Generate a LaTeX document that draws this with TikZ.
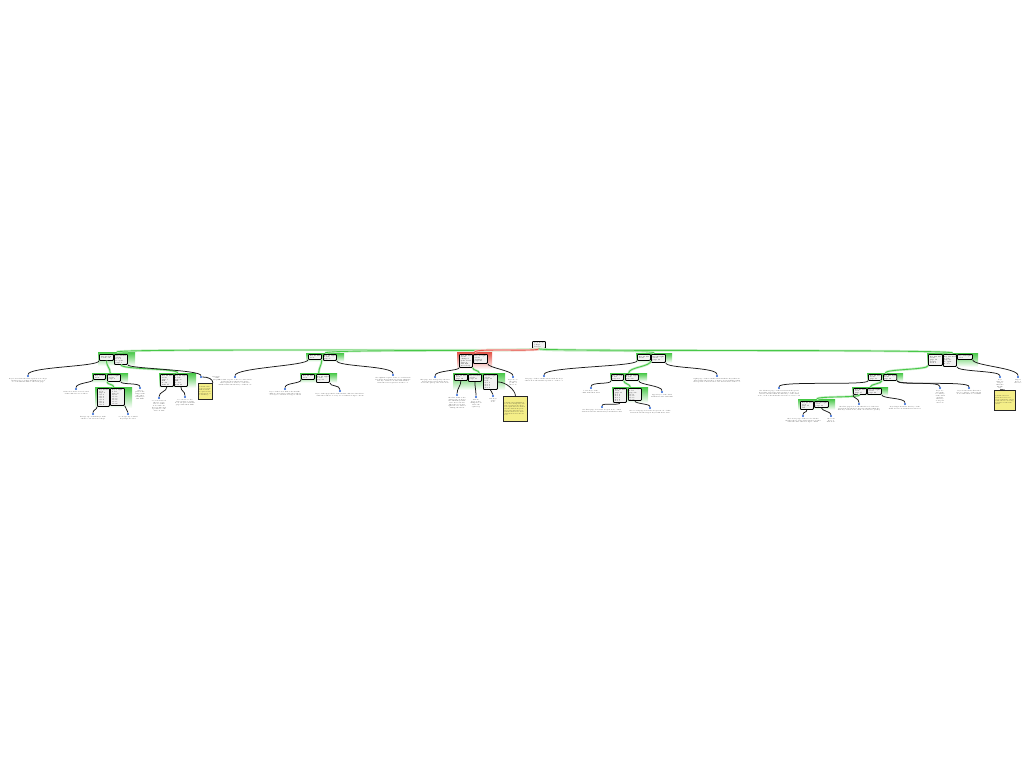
\documentclass[tikz,border=0pt]{standalone}
\usepackage{tikz}
\usetikzlibrary{positioning}

\definecolor{linkgreen}{RGB}{72,200,72}
\definecolor{linkred}{RGB}{228,84,72}
\definecolor{notefill}{RGB}{244,238,136}
\definecolor{markblue}{RGB}{36,96,214}

\tikzset{keybox/.style={draw=black,line width=0.8pt,rounded corners=0.8pt,
           fill=gray!10,inner sep=0.4pt,anchor=north west,align=left,
           text=black,font=\fontsize{1.6}{1.7}\selectfont},
         greenbg/.style={anchor=north west,inner sep=0pt,
           top color=linkgreen,bottom color=linkgreen!4},
         redbg/.style={anchor=north west,inner sep=0pt,
           top color=linkred,bottom color=linkred!6},
         leafmark/.style={circle,fill=markblue,inner sep=0pt,minimum size=2.4pt},
         leaftext/.style={align=center,inner sep=0.2pt,text=black!90,
           font=\fontsize{1.5}{1.7}\selectfont},
         notebox/.style={draw=black!85,line width=0.9pt,fill=notefill,
           anchor=north west,align=left,inner sep=0.8pt,text=black!90,
           font=\fontsize{1.4}{1.6}\selectfont},
         link/.style={draw=black!90,line width=0.75pt},
         glink/.style={draw=linkgreen,line width=0.9pt,
           preaction={draw=linkgreen!30,line width=2.4pt}},
         rlink/.style={draw=linkred,line width=0.9pt,
           preaction={draw=linkred!30,line width=2.4pt}}}

% box, group and leaf helpers (pixel coordinates, y downwards)
\newcommand{\kbox}[6]{\node[keybox,minimum width=#4pt,minimum height=#5pt] (#1) at (#2,-#3) {#6};}
\newcommand{\grp}[6]{\node[#6,minimum width=#4pt,minimum height=#5pt] (#1) at (#2,-#3) {};}
\newcommand{\leaf}[5]{\node[leafmark] (#1) at (#2,-#3) {};
  \node[leaftext,text width=#4pt,below=0.6pt of #1] (#1t) {#5};}
\newcommand{\ynote}[6]{\node[notebox,minimum width=#4pt,minimum height=#5pt,text width=#4pt-2pt] (#1) at (#2,-#3) {#6};}

\begin{document}
\begin{tikzpicture}[x=1pt,y=1pt]
\useasboundingbox (0,0) rectangle (1024,-768);

% group backgrounds
\grp{gA}{98}{352}{37}{13}{greenbg}
\grp{gB}{306}{353}{38}{8}{greenbg}
\grp{gC}{457}{352}{35}{16}{redbg}
\grp{gD}{636}{353}{36}{9}{greenbg}
\grp{gE}{927}{353}{51}{13}{greenbg}
\grp{gA1}{92}{373}{36}{9}{greenbg}
\grp{gA2}{159}{373}{37}{14}{greenbg}
\grp{gA11}{95}{387}{37}{20}{greenbg}
\grp{gB1}{300}{373}{37}{9}{greenbg}
\grp{gC1}{453}{373}{52}{16}{greenbg}
\grp{gD1}{610}{373}{37}{8}{greenbg}
\grp{gD11}{612}{387}{36}{15}{greenbg}
\grp{gE1}{867}{373}{36}{8}{greenbg}
\grp{gE11}{852}{387}{36}{8}{greenbg}
\grp{gE111}{798}{399}{37}{10}{greenbg}

% key boxes
\kbox{root}{532}{341}{13}{7}{root node\\5 keys\\level 0}
\kbox{Aa}{99}{354}{14}{6}{key 12 left\\2 refs out}
\kbox{Ab}{114}{354}{13}{10}{key 24 mid\\2 refs\\6 of 8\\no split\\page 3}
\kbox{Ba}{308}{354}{13}{5}{key 40 left\\1 ref}
\kbox{Bb}{323}{354}{13}{6}{key 52 right\\2 refs\\page 7}
\kbox{Ca}{459}{354}{13}{13}{key 61 left\\2 refs\\changed\\split at 64\\page 9\\left half\\moved up}
\kbox{Cb}{473}{354}{14}{9}{key 70 right\\2 refs\\changed\\page 10}
\kbox{Da}{637}{354}{13}{6}{key 81 left\\2 refs}
\kbox{Db}{651}{354}{14}{8}{key 90 right\\2 refs\\page 12}
\kbox{Ea}{928}{354}{14}{11}{key 104 left\\3 refs\\page 14\\deeper\\level 1}
\kbox{Eb}{943}{354}{13}{12}{key 118 mid\\2 refs\\page 15\\no split\\6 of 8}
\kbox{Ec}{957}{354}{15}{5}{key 126 right\\1 ref}
\kbox{A1a}{93}{374}{12}{5}{key 5 left\\1 ref}
\kbox{A1b}{107}{374}{13}{7}{key 8 right\\2 refs\\page 4}
\kbox{A2a}{160}{374}{13}{12}{key 16 left\\2 refs\\page 5\\full\\6 of 8\\next 17}
\kbox{A2b}{174}{374}{13}{12}{key 20 right\\2 refs\\page 6\\full\\7 of 8\\next 21}
\kbox{A11a}{97}{388}{12}{18}{key 6 left\\1 ref\\page 8\\slot 1\\slot 2\\slot 3\\slot 4\\slot 5\\slot 6\\slot 7}
\kbox{A11b}{110}{388}{14}{17}{key 7 right\\1 ref\\page 9\\slot 1\\slot 2\\slot 3\\slot 4\\slot 5\\slot 6}
\kbox{B1a}{301}{374}{13}{5}{key 44 left\\1 ref}
\kbox{B1b}{316}{374}{13}{8}{key 47 right\\2 refs\\page 11}
\kbox{C1a}{454}{374}{13}{6}{key 58 left\\1 ref\\page 16}
\kbox{C1b}{468}{374}{13}{7}{key 64 mid\\2 refs\\page 17}
\kbox{C1c}{483}{374}{14}{15}{key 67 right\\2 refs\\page 18\\new\\slot 1\\slot 2\\slot 3\\slot 4}
\kbox{D1a}{611}{374}{12}{6}{key 76 left\\1 ref\\page 19}
\kbox{D1b}{625}{374}{13}{6}{key 78 right\\2 refs\\page 20}
\kbox{D11a}{613}{388}{13}{14}{key 77 left\\1 ref\\page 21\\slot 1\\slot 2\\slot 3\\slot 4\\slot 5}
\kbox{D11b}{628}{388}{13}{12}{key 78 right\\1 ref\\page 22\\slot 1\\slot 2\\slot 3\\slot 4}
\kbox{E1a}{868}{374}{13}{6}{key 96 left\\2 refs\\page 23}
\kbox{E1b}{883}{374}{13}{6}{key 100 right\\2 refs\\page 24}
\kbox{E11a}{853}{388}{13}{6}{key 93 left\\1 ref\\page 25}
\kbox{E11b}{867}{388}{14}{6}{key 95 right\\2 refs\\page 26}
\kbox{E111a}{800}{401}{13}{8}{key 91 left\\1 ref\\page 27\\last}
\kbox{E111b}{814}{401}{14}{6}{key 92 right\\1 ref\\page 28}

% tree links
\draw[glink] (root.south) .. controls +(0,-3) and +(0,4) .. (gA.north);
\draw[glink] (root.south) .. controls +(0,-3) and +(0,4) .. (gB.north);
\draw[rlink] (root.south) .. controls +(0,-3) and +(0,4) .. (gC.north);
\draw[glink] (root.south) .. controls +(0,-3) and +(0,4) .. (gD.north);
\draw[glink] (root.south) .. controls +(0,-3) and +(0,4) .. (gE.north);
\draw[glink] (Aa.south) .. controls +(0,-5) and +(0,5) .. (gA1.north);
\draw[glink] (Ab.south) .. controls +(0,-5) and +(0,5) .. (gA2.north);
\draw[glink] (A1b.south west) .. controls +(0,-3) and +(0,3) .. (gA11.north);
\draw[glink] (Ba.south east) .. controls +(0,-5) and +(0,5) .. (gB1.north);
\draw[glink] (Ca.south east) .. controls +(0,-3) and +(0,3) .. (gC1.north);
\draw[glink] (Da.south east) .. controls +(0,-6) and +(0,6) .. (gD1.north);
\draw[glink] (D1a.south east) .. controls +(0,-3) and +(0,3) .. (gD11.north);
\draw[glink] (Ea.south west) .. controls +(0,-4) and +(0,4) .. (gE1.north);
\draw[glink] (E1a.south east) .. controls +(0,-3) and +(0,3) .. (gE11.north);
\draw[glink] (E11a.south) .. controls +(0,-3) and +(0,3) .. (gE111.north);

% leaves
\leaf{lA0}{28}{376}{45}{keys lower than the first separator are kept in this page together with their stored records and the link to the next page}
\node[leafmark] (lA3) at (201,-377) {};
\node[leaftext,text width=8pt,anchor=north west] (lA3t) at ([xshift=11pt]lA3.north) {last page of the left part};
\leaf{lA10}{76}{389}{42}{values below the lower bound of this child are stored here}
\leaf{lA12}{140}{388}{10}{upper part of the range with the other small keys and links}
\leaf{lA110}{93}{414}{42}{first group of small keys with their record references kept}
\leaf{lA112}{128}{414}{28}{second group of small keys kept in order}
\leaf{lA20}{159}{398}{16}{records between the two separators of this node with one key per line and a pointer to the data on disk}
\leaf{lA22}{185}{397}{23}{records above the last separator of this node are placed in this page with their links}
\leaf{lB0}{235}{377}{38}{the leftmost part of the second branch holds the keys which follow the first separator of the root and are smaller than the first key of this node}
\leaf{lB2}{393}{375}{40}{the rightmost part of the second branch holds the keys which are larger than the last key of this node but still smaller than the next separator in the root}
\leaf{lB10}{285}{389}{46}{keys of the lower half of the middle child are listed here with the address of every record that belongs to them}
\leaf{lB12}{340}{391}{50}{keys of the upper half of the middle child are listed here with the address of every record that belongs to them}
\leaf{lC0}{435}{377}{30}{this page was changed by the last insert and now holds the keys below the split point of the node}
\leaf{lC2}{513}{377}{10}{keys above the split point of the node}
\leaf{lC10}{457}{395}{19}{the first child of the changed node keeps the small keys that were moved down when the node was split into two halves during the insert}
\leaf{lC11}{476}{397}{12}{middle keys of the changed node after the split step}
\leaf{lC12}{493}{396}{9}{last keys of the node}
\leaf{lD0}{544}{376}{40}{left page of the fourth branch with the keys that follow the middle separator of the root}
\leaf{lD2}{717}{376}{65}{right page of the fourth branch with the keys that are larger than the last key of this node and smaller than the separator that leads to the last branch of the root}
\leaf{lD10}{591}{388}{30}{lower keys of the child with their data}
\leaf{lD12}{662}{392}{22}{upper keys of the child with their data and links}
\leaf{lD110}{602}{407}{42}{the first page below the deepest node of this branch holds the smallest keys with their data}
\leaf{lD112}{650}{408}{46}{the second page below the deepest node of this branch holds the largest keys with their data}
\leaf{lE1}{1000}{377}{8}{keys that are larger than the middle key}
\leaf{lE2}{1018}{377}{10}{largest keys of the tree}
\leaf{lE10}{779}{388}{48}{the leftmost page of the last branch keeps all keys that follow the last separator of the root and are smaller than the first key of the child node, each of them with a reference to its record}
\leaf{lE12}{940}{388}{10}{keys between the second key of the child and the first key of its parent node}
\leaf{lE13}{969}{388}{28}{keys between the first and the second key of the parent node with their record links}
\leaf{lE110}{859}{404}{45}{the first page below the third level of the last branch holds the keys that are smaller than the first key of that node, with one reference per key}
\leaf{lE112}{905}{404}{54}{keys larger than the last key of the third level node with their references}
\leaf{lE1110}{803}{416}{37}{the lowest page of the tree holds the smallest keys of the last branch together with the data that belongs to them}
\leaf{lE1112}{831}{416}{10}{the next keys of that node}

% notes
\ynote{nA}{198}{383}{14}{16}{remark: this page is nearly full and will be split at the next insert of a small key}
\ynote{nC}{503}{396}{24}{25}{remark: the highlighted node was changed by the last operation; the keys were split into two halves and the middle key was moved up into the root, which now has one more child than before the insert}
\ynote{nE}{994}{390}{21}{20}{remark: the last branch is one level deeper than the others while the tree is being rebalanced after the insert}

% leaf links
\draw[link] (Aa.south west) .. controls +(0,-6) and +(0,8) .. (lA0.north);
\draw[link] (Ab.south east) .. controls +(0,-4) and +(0,6) .. (lA3.north);
\draw[link] (lA3.east) .. controls +(6,0) and +(0,4) .. (nA.north east);
\draw[link] (A1a.south west) .. controls +(0,-3) and +(0,5) .. (lA10.north);
\draw[link] (A1b.south east) .. controls +(0,-3) and +(0,4) .. (lA12.north);
\draw[link] (A11a.south west) .. controls +(0,-3) and +(0,3) .. (lA110.north);
\draw[link] (A11b.south east) .. controls +(0,-3) and +(0,3) .. (lA112.north);
\draw[link] (A2a.south) .. controls +(0,-5) and +(0,5) .. (lA20.north);
\draw[link] (A2b.south) .. controls +(0,-5) and +(0,5) .. (lA22.north);
\draw[link] (Ba.south west) .. controls +(0,-6) and +(0,8) .. (lB0.north);
\draw[link] (Bb.south east) .. controls +(0,-6) and +(0,8) .. (lB2.north);
\draw[link] (B1a.south west) .. controls +(0,-4) and +(0,5) .. (lB10.north);
\draw[link] (B1b.south east) .. controls +(0,-4) and +(0,5) .. (lB12.north);
\draw[link] (Ca.south west) .. controls +(0,-3) and +(0,5) .. (lC0.north);
\draw[link] (Cb.south east) .. controls +(0,-4) and +(0,5) .. (lC2.north);
\draw[link] (C1a.south) .. controls +(0,-5) and +(0,5) .. (lC10.north);
\draw[link] (C1b.south) .. controls +(0,-5) and +(0,5) .. (lC11.north);
\draw[link] (C1c.south) .. controls +(0,-3) and +(0,3) .. (lC12.north);
\draw[link] (C1c.east) .. controls +(8,0) and +(0,6) .. (nC.north);
\draw[link] (Da.south west) .. controls +(0,-6) and +(0,8) .. (lD0.north);
\draw[link] (Db.south east) .. controls +(0,-6) and +(0,8) .. (lD2.north);
\draw[link] (D1a.south west) .. controls +(0,-4) and +(0,5) .. (lD10.north);
\draw[link] (D1b.south east) .. controls +(0,-4) and +(0,5) .. (lD12.north);
\draw[link] (D11a.south) .. controls +(0,-3) and +(0,3) .. (lD110.north);
\draw[link] (D11b.south) .. controls +(0,-3) and +(0,3) .. (lD112.north);
\draw[link] (Eb.south east) .. controls +(0,-5) and +(0,5) .. (lE1.north);
\draw[link] (Ec.south east) .. controls +(0,-6) and +(0,8) .. (lE2.north);
\draw[link] (lE1t.south) -- (nE.north);
\draw[link] (E1a.south west) .. controls +(0,-5) and +(0,6) .. (lE10.north);
\draw[link] (E1b.south east) .. controls +(0,-5) and +(0,6) .. (lE12.north);
\draw[link] (E1b.south east) .. controls +(0,-5) and +(0,6) .. (lE13.north);
\draw[link] (E11a.south west) .. controls +(0,-4) and +(0,5) .. (lE110.north);
\draw[link] (E11b.south east) .. controls +(0,-4) and +(0,5) .. (lE112.north);
\draw[link] (E111a.south) .. controls +(0,-3) and +(0,3) .. (lE1110.north);
\draw[link] (E111b.south) .. controls +(0,-3) and +(0,3) .. (lE1112.north);
\end{tikzpicture}
\end{document}
